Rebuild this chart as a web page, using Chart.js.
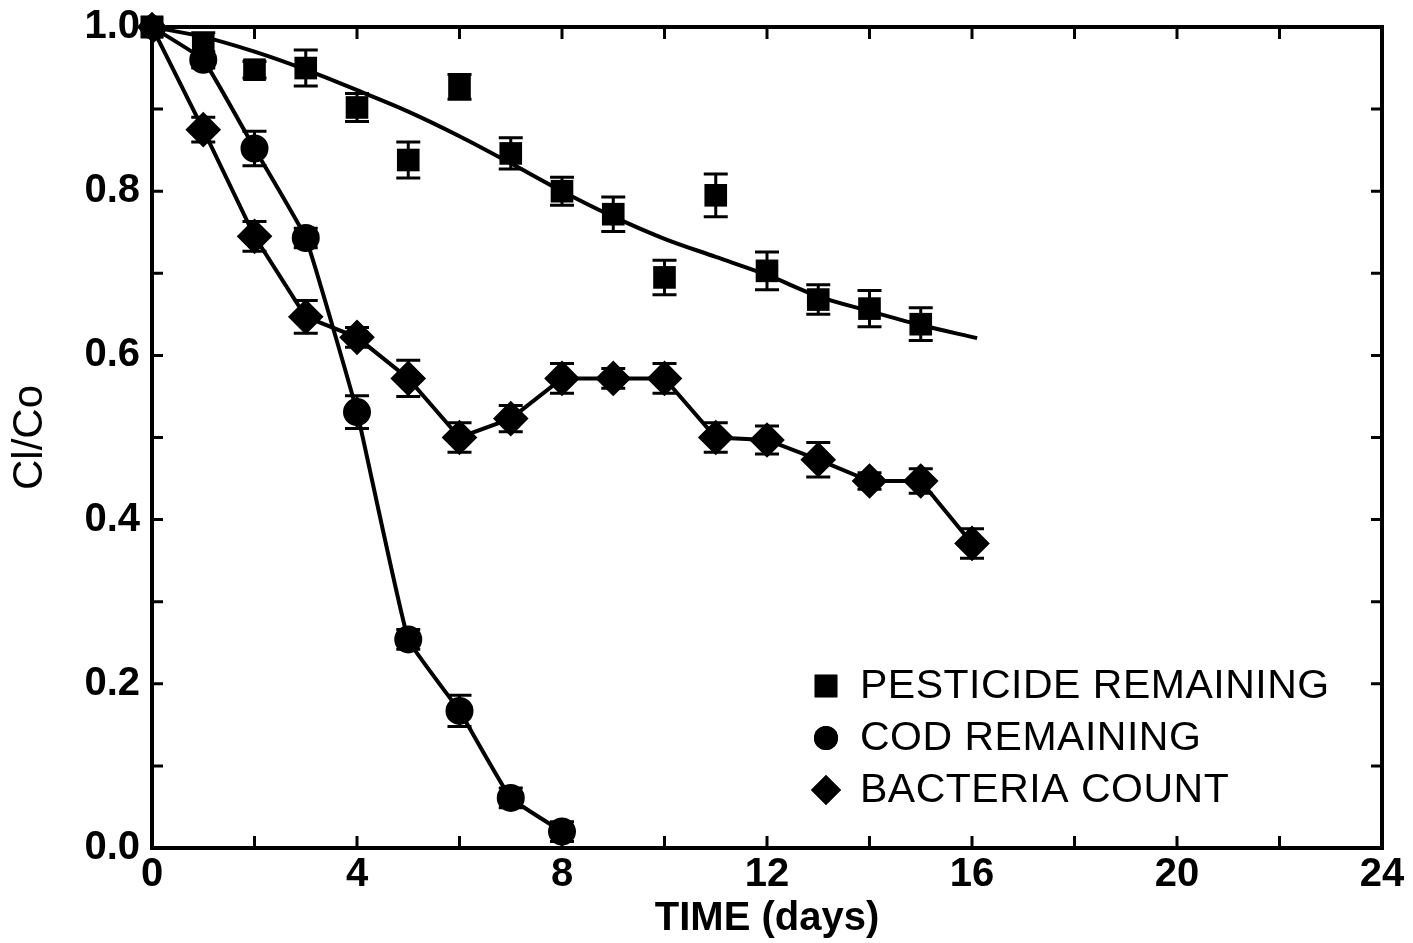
<!DOCTYPE html>
<html>
<head>
<meta charset="utf-8">
<script src="https://cdn.jsdelivr.net/npm/chart.js@4/dist/chart.umd.min.js"></script>
<style>
  html, body { margin: 0; padding: 0; background: #fff; }
  #wrap { width: 1413px; height: 943px; }
</style>
</head>
<body>
<div id="wrap"><canvas id="decayChart" width="1413" height="943"></canvas></div>
<script>
// Values (Cl/Co vs. time in days)
const days = [0, 1, 2, 3, 4, 5, 6, 7, 8, 9, 10, 11, 12, 13, 14, 15, 16];

const pesticide    = [1.0, 0.978, 0.948, 0.950, 0.902, 0.838, 0.927, 0.846, 0.800, 0.772, 0.695, 0.795, 0.703, 0.668, 0.657, 0.638];
const pesticideErr = [0.0, 0.015, 0.010, 0.022, 0.017, 0.022, 0.015, 0.019, 0.017, 0.021, 0.021, 0.026, 0.023, 0.018, 0.022, 0.020];

const cod    = [1.0, 0.960, 0.852, 0.743, 0.531, 0.254, 0.167, 0.061, 0.020];
const codErr = [0.0, 0.010, 0.021, 0.012, 0.020, 0.012, 0.019, 0.012, 0.012];

const bacteria    = [1.0, 0.875, 0.745, 0.647, 0.622, 0.572, 0.500, 0.523, 0.572, 0.572, 0.572, 0.500, 0.497, 0.473, 0.447, 0.447, 0.371];
const bacteriaErr = [0.0, 0.015, 0.018, 0.020, 0.012, 0.022, 0.018, 0.016, 0.018, 0.012, 0.018, 0.018, 0.017, 0.021, 0.010, 0.015, 0.018];

// smooth curve drawn through the pesticide data
const fitDays   = [0, 1, 2, 3, 4, 5, 6, 7, 8, 9, 10, 11, 12, 13, 14, 15, 16.1];
const fitValues = [1.0, 0.988, 0.970, 0.948, 0.923, 0.897, 0.867, 0.834, 0.800, 0.769, 0.742, 0.720, 0.698, 0.672, 0.654, 0.637, 0.621];

const xTicks = [0, 4, 8, 12, 16, 20, 24];
const yTicks = [0.0, 0.2, 0.4, 0.6, 0.8, 1.0];

const FONT = "'Liberation Sans', Arial, Helvetica, sans-serif";

function toPoints(xs, ys) {
    return ys.map((v, i) => ({ x: xs[i], y: v }));
}

// error bars + frame + inward ticks + legend, all placed through the chart scales
const paperPlugin = {
    id: "paper",
    afterDatasetsDraw(chart) {
        const ctx = chart.ctx;
        const xs = chart.scales.x, ys = chart.scales.y;
        const errs = { 0: pesticideErr, 2: codErr, 3: bacteriaErr };
        ctx.save();
        ctx.strokeStyle = "#000";
        ctx.lineWidth = 3;
        Object.keys(errs).forEach(idx => {
            const ds = chart.data.datasets[idx];
            ds.data.forEach((p, i) => {
                const e = errs[idx][i];
                if (!e) return;
                const px = xs.getPixelForValue(p.x);
                const top = ys.getPixelForValue(p.y + e);
                const bot = ys.getPixelForValue(p.y - e);
                ctx.beginPath();
                ctx.moveTo(px, top); ctx.lineTo(px, bot);
                ctx.moveTo(px - 12, top); ctx.lineTo(px + 12, top);
                ctx.moveTo(px - 12, bot); ctx.lineTo(px + 12, bot);
                ctx.stroke();
            });
        });
        ctx.restore();
    },
    afterDraw(chart) {
        const ctx = chart.ctx;
        const a = chart.chartArea;
        const xs = chart.scales.x, ys = chart.scales.y;
        ctx.save();
        ctx.strokeStyle = "#000";
        ctx.lineWidth = 4;
        ctx.lineCap = "square";
        ctx.strokeRect(a.left, a.top, a.right - a.left, a.bottom - a.top);

        ctx.lineWidth = 3;
        ctx.lineCap = "butt";
        ctx.beginPath();
        xs.ticks.forEach(t => {
            if (t.value <= 0 || t.value >= 24) return;
            const px = xs.getPixelForValue(t.value);
            ctx.moveTo(px, a.bottom); ctx.lineTo(px, a.bottom - 12);
            ctx.moveTo(px, a.top); ctx.lineTo(px, a.top + 12);
        });
        ys.ticks.forEach(t => {
            if (t.value <= 0 || t.value >= 1) return;
            const py = ys.getPixelForValue(t.value);
            ctx.moveTo(a.left, py); ctx.lineTo(a.left + 11, py);
            ctx.moveTo(a.right, py); ctx.lineTo(a.right - 11, py);
        });
        ctx.stroke();

        // the shared starting point sits on the corner, drawn over the frame
        [0, 2, 3].forEach(i => {
            const ds = chart.data.datasets[i];
            const p = ds.data[0];
            Chart.helpers.drawPoint(ctx, { pointStyle: ds.pointStyle, radius: ds.pointRadius, borderWidth: 0 },
                xs.getPixelForValue(p.x), ys.getPixelForValue(p.y));
            ctx.fillStyle = "#000";
            ctx.fill();
        });

        // legend inside the plot, lower right
        const items = [0, 2, 3].map(i => chart.data.datasets[i]);
        ctx.font = "41px " + FONT;
        ctx.letterSpacing = "0.5px";
        ctx.fillStyle = "#000";
        ctx.textBaseline = "middle";
        items.forEach((ds, k) => {
            const lx = 826, ly = 686 + k * 52;
            Chart.helpers.drawPoint(ctx, {
                pointStyle: ds.pointStyle,
                radius: ds.pointRadius,
                borderWidth: 0
            }, lx, ly);
            ctx.fill();
            ctx.fillText(ds.label, 860, ly + 1);
        });
        ctx.restore();
    }
};

const ctx = document.getElementById("decayChart").getContext("2d");

new Chart(ctx, {
    type: "scatter",
    data: {
        datasets: [
            {
                label: "PESTICIDE REMAINING",
                data: toPoints(days, pesticide),
                showLine: false,
                pointStyle: "rect",
                pointRadius: 16,
                backgroundColor: "#000",
                borderColor: "#000",
                borderWidth: 0
            },
            {
                label: "fit",
                data: toPoints(fitDays, fitValues),
                showLine: true,
                pointRadius: 0,
                borderColor: "#000",
                borderWidth: 4,
                cubicInterpolationMode: "monotone"
            },
            {
                label: "COD REMAINING",
                data: toPoints(days, cod),
                showLine: true,
                pointStyle: "circle",
                pointRadius: 12,
                backgroundColor: "#000",
                borderColor: "#000",
                borderWidth: 4,
                tension: 0.1
            },
            {
                label: "BACTERIA COUNT",
                data: toPoints(days, bacteria),
                showLine: true,
                pointStyle: "rectRot",
                pointRadius: 15,
                backgroundColor: "#000",
                borderColor: "#000",
                borderWidth: 4,
                tension: 0
            }
        ]
    },
    options: {
        responsive: false,
        animation: false,
        layout: { padding: { left: 0, top: 27, right: 31, bottom: 0 } },
        plugins: {
            legend: { display: false },
            tooltip: { enabled: false }
        },
        scales: {
            x: {
                type: "linear",
                min: 0,
                max: 24,
                afterFit: s => { s.height = 95; s.paddingLeft = 0; s.paddingRight = 0; },
                grid: { display: false, drawTicks: false },
                border: { display: false },
                ticks: {
                    stepSize: 2,
                    padding: 3,
                    color: "#000",
                    font: { family: FONT, size: 40, weight: "bold" },
                    callback: v => xTicks.includes(v) ? String(v) : ""
                },
                title: {
                    display: true,
                    text: "TIME (days)",
                    color: "#000",
                    padding: { top: 0, bottom: 0 },
                    font: { family: FONT, size: 40, weight: "bold" }
                }
            },
            y: {
                type: "linear",
                min: 0,
                max: 1,
                afterFit: s => { s.width = 152; s.paddingTop = 0; s.paddingBottom = 0; },
                grid: { display: false, drawTicks: false },
                border: { display: false },
                ticks: {
                    stepSize: 0.1,
                    padding: 12,
                    color: "#000",
                    font: { family: FONT, size: 40, weight: "bold" },
                    callback: v => yTicks.some(t => Math.abs(t - v) < 1e-6) ? v.toFixed(1) : ""
                },
                title: {
                    display: true,
                    text: "Cl/Co",
                    color: "#000",
                    padding: { top: 5, bottom: 0 },
                    font: { family: FONT, size: 42 }
                }
            }
        }
    },
    plugins: [paperPlugin]
});
</script>
</body>
</html>
